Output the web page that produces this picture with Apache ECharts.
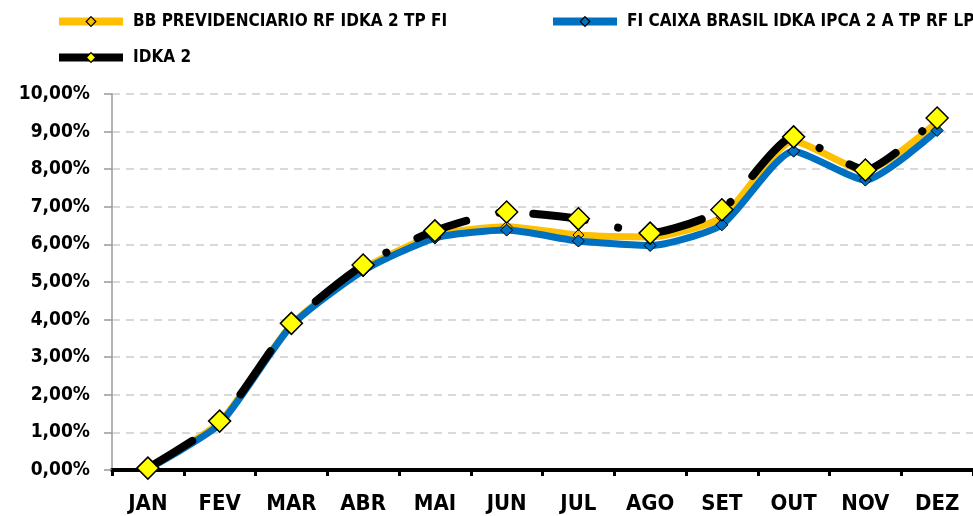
<!DOCTYPE html>
<html>
<head>
<meta charset="utf-8">
<script src="https://cdn.jsdelivr.net/npm/echarts@6/dist/echarts.min.js"></script>
<style>html,body{margin:0;padding:0;background:#fff}#c{width:973px;height:516px}</style>
</head>
<body>
<div id="c"></div>
<script>
var categories = ['JAN','FEV','MAR','ABR','MAI','JUN','JUL','AGO','SET','OUT','NOV','DEZ'];
var bbValues = [0.05, 1.27, 3.86, 5.35, 6.24, 6.47, 6.25, 6.20, 6.72, 8.75, 7.95, 9.25];
var caixaValues = [0.03, 1.22, 3.84, 5.30, 6.17, 6.38, 6.09, 5.97, 6.52, 8.48, 7.71, 9.03];
var idkaValues = [0.05, 1.30, 3.90, 5.45, 6.36, 6.86, 6.68, 6.30, 6.92, 8.86, 7.98, 9.36];
var seriesNames = ['BB PREVIDENCIARIO RF IDKA 2 TP FI', 'FI CAIXA BRASIL IDKA IPCA 2 A TP RF LP', 'IDKA 2'];

var FONT = "'Liberation Sans Narrow','DejaVu Sans Condensed','Liberation Sans',sans-serif";
var legendText = {fontFamily: FONT, fontWeight: 'bold', fontSize: 17, color: '#000', padding: [0, 0, 0, 5]};
function legendFor(idx, left, top, lineColor, symColor) {
  return {
    data: [{name: seriesNames[idx], lineStyle: {width: 8, color: lineColor, cap: 'butt', type: 'solid'},
            itemStyle: {color: symColor, borderColor: '#000', borderWidth: 1.2}}],
    left: left, top: top, padding: 0,
    itemWidth: 64, itemHeight: 12,
    textStyle: legendText
  };
}
var chart = echarts.init(document.getElementById('c'), null, {renderer: 'canvas'});
chart.setOption({
  animation: false,
  backgroundColor: '#fff',
  textStyle: {fontFamily: FONT},
  legend: [
    legendFor(0, 55, 13, '#FFC000', '#FFC000'),
    legendFor(1, 549, 13, '#0070C0', '#0070C0'),
    legendFor(2, 55, 49, '#000', '#FFFF00')
  ],
  grid: {left: 112, right: 0, top: 94, bottom: 46, containLabel: false},
  xAxis: {
    type: 'category',
    data: categories,
    boundaryGap: true,
    axisLine: {lineStyle: {color: '#000', width: 4}},
    axisTick: {show: true, length: 6, lineStyle: {color: '#000', width: 3}},
    axisLabel: {fontFamily: FONT, fontWeight: 'bold', fontSize: 22, color: '#000', margin: 23},
    splitLine: {show: false}
  },
  yAxis: {
    type: 'value',
    min: 0, max: 10, interval: 1,
    axisLine: {show: true, lineStyle: {color: '#999', width: 1.5}},
    axisTick: {show: true, length: 8, lineStyle: {color: '#999', width: 1.5}},
    axisLabel: {
      fontFamily: FONT, fontWeight: 'bold', fontSize: 19, color: '#000', margin: 22,
      formatter: function (v) { return v.toFixed(2).replace('.', ',') + '%'; }
    },
    splitLine: {show: true, lineStyle: {color: '#d9d9d9', width: 2, type: [8, 6]}}
  },
  series: [{
    name: seriesNames[0],
    type: 'line',
    data: bbValues,
    smooth: 0.2,
    lineStyle: {color: '#FFC000', width: 7},
    itemStyle: {color: '#FFC000', borderColor: '#000', borderWidth: 1},
    symbol: 'diamond', symbolSize: 11,
    z: 2
  }, {
    name: seriesNames[1],
    type: 'line',
    data: caixaValues,
    smooth: 0.2,
    lineStyle: {color: '#0070C0', width: 7},
    itemStyle: {color: '#0070C0', borderColor: '#000', borderWidth: 1},
    symbol: 'diamond', symbolSize: 12,
    z: 3
  }, {
    name: seriesNames[2],
    type: 'line',
    data: idkaValues,
    smooth: 0.2,
    lineStyle: {color: '#000', width: 8, type: [52, 34, 0.1, 34], cap: 'round'},
    itemStyle: {color: '#FFFF00', borderColor: '#000', borderWidth: 1.5},
    symbol: 'diamond', symbolSize: 22,
    z: 4
  }]
});
</script>
</body>
</html>
